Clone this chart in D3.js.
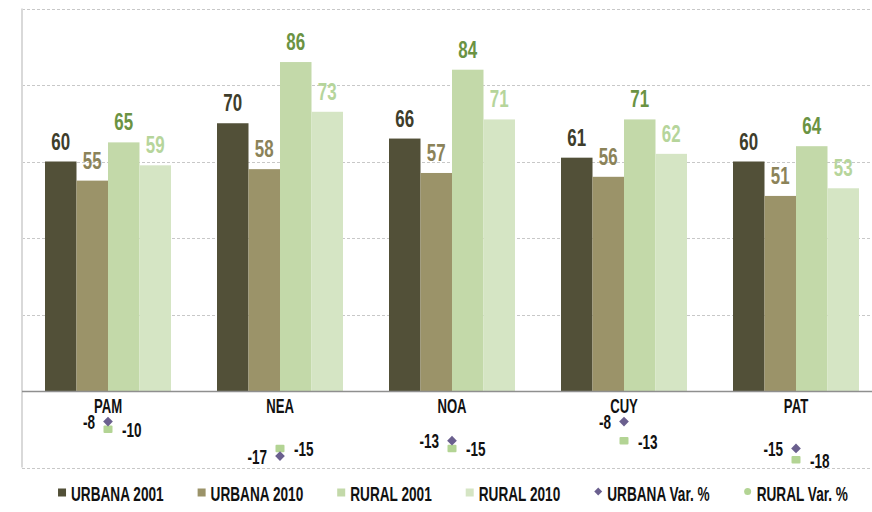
<!DOCTYPE html>
<html>
<head>
<meta charset="utf-8">
<script src="https://cdn.jsdelivr.net/npm/d3@7"></script>
<style>
  html, body { margin: 0; padding: 0; background: #fff; }
  svg { display: block; }
  text { font-family: "Liberation Sans", Arial, sans-serif; font-weight: bold; }
</style>
</head>
<body>
<svg id="chart" width="872" height="512"></svg>
<script>
const categories = ["PAM", "NEA", "NOA", "CUY", "PAT"];
const urbana2001 = [60, 70, 66, 61, 60];
const urbana2010 = [55, 58, 57, 56, 51];
const rural2001 = [65, 86, 84, 71, 64];
const rural2010 = [59, 73, 71, 62, 53];
const urbanaVar = [-8, -17, -13, -8, -15];
const ruralVar = [-10, -15, -15, -13, -18];
const gridTicks = [-20, 0, 20, 40, 60, 80, 100];
const seriesNames = ["URBANA 2001", "URBANA 2010", "RURAL 2001", "RURAL 2010"];
const legendNames = ["URBANA 2001", "URBANA 2010", "RURAL 2001", "RURAL 2010", "URBANA Var. %", "RURAL Var. %"];

const barColors = ["#525038", "#9b9369", "#c3d9a9", "#d5e5c4"];
const labelColors = ["#3e3d2b", "#8b8359", "#6b9343", "#b6d59b"];
const urbMarker = "#6a5f8e";
const rurMarker = "#b3d494";

const svg = d3.select("#chart");
const left = 22, bandW = 172;
const x0 = d3.scaleBand().domain(categories).range([left, left + bandW * categories.length]).paddingInner(0).paddingOuter(0);
const x1 = d3.scaleBand().domain(seriesNames).range([23, 149]);
const y = d3.scaleLinear().domain([-20, 100]).range([467.5, 8.5]);

// condensed text helper
function ctext(sel, fx, fy, size, anchor, color, txt, sx) {
  return sel.append("text")
    .attr("transform", (d, i) => `translate(${fx(d, i)},${fy(d, i)}) scale(${sx},1)`)
    .attr("text-anchor", anchor)
    .attr("font-size", size)
    .attr("fill", color)
    .text(txt);
}

// gridlines
svg.append("g").selectAll("line").data(gridTicks.filter(t => t !== 0)).join("line")
  .attr("x1", left).attr("x2", 872)
  .attr("y1", d => Math.round(y(d)) + 0.5).attr("y2", d => Math.round(y(d)) + 0.5)
  .attr("stroke", "#c8c8c8").attr("stroke-width", 1).attr("stroke-dasharray", "3,2");

// left border
svg.append("line").attr("x1", left).attr("x2", left).attr("y1", y(100)).attr("y2", y(-20))
  .attr("stroke", "#d9d9d9").attr("stroke-width", 2);

const series = [urbana2001, urbana2010, rural2001, rural2010];

const groups = svg.append("g").selectAll("g").data(categories).join("g")
  .attr("transform", d => `translate(${x0(d)},0)`);

series.forEach((vals, si) => {
  groups.append("rect")
    .attr("x", x1(seriesNames[si]))
    .attr("width", x1.bandwidth())
    .attr("y", (d, i) => y(vals[i]))
    .attr("height", (d, i) => y(0) - y(vals[i]))
    .attr("fill", barColors[si]);
  ctext(groups,
    () => x1(seriesNames[si]) + x1.bandwidth() / 2,
    (d, i) => y(vals[i]) - 12,
    23.5, "middle", labelColors[si], (d, i) => vals[i], 0.72);
});

// baseline
svg.append("line").attr("x1", left).attr("x2", 872)
  .attr("y1", Math.round(y(0)) + 0.5).attr("y2", Math.round(y(0)) + 0.5)
  .attr("stroke", "#8f8f8f").attr("stroke-width", 1.3);

// category labels
ctext(groups, () => x0.bandwidth() / 2, () => 412.5, 20.5, "middle", "#111", d => d, 0.64);

// markers
const cx = x0.bandwidth() / 2;
groups.append("rect")
  .attr("x", cx - 4.5).attr("width", 9).attr("height", 7.5)
  .attr("y", (d, i) => y(ruralVar[i]) - 3.75)
  .attr("rx", 1)
  .attr("fill", rurMarker);
groups.append("path")
  .attr("d", d3.symbol().type(d3.symbolDiamond2).size(60))
  .attr("transform", (d, i) => `translate(${cx},${y(urbanaVar[i])})`)
  .attr("fill", urbMarker);
ctext(groups, () => cx - 13, (d, i) => y(urbanaVar[i]) + 7.5, 20.5, "end", "#111", (d, i) => urbanaVar[i], 0.66);
ctext(groups, () => cx + 14, (d, i) => y(ruralVar[i]) + 8, 20.5, "start", "#111", (d, i) => ruralVar[i], 0.66);

// legend
const legendColors = [...barColors, urbMarker, rurMarker];
const lg = svg.append("g");
const items = lg.selectAll("g").data(legendNames).join("g");
const LSX = 0.665;
items.each(function(d, i) {
  const g = d3.select(this);
  if (i < 4) {
    g.append("rect").attr("x", 0).attr("y", -12).attr("width", 8).attr("height", 8).attr("fill", legendColors[i]);
  } else if (i === 4) {
    g.append("path").attr("d", d3.symbol().type(d3.symbolDiamond2).size(40)).attr("transform", "translate(4,-9)").attr("fill", legendColors[i]);
  } else {
    g.append("circle").attr("cx", 4).attr("cy", -9).attr("r", 3.5).attr("fill", legendColors[i]);
  }
  g.append("text").attr("transform", `translate(13,0) scale(${LSX},1)`).attr("font-size", 20.5).attr("fill", "#111").text(d);
});
const widths = [];
items.each(function() {
  widths.push(13 + LSX * d3.select(this).select("text").node().getComputedTextLength());
});
const gap = 34;
const total = widths.reduce((a, b) => a + b, 0) + gap * (widths.length - 1);
let xpos = 453 - total / 2;
items.attr("transform", (d, i) => {
  const t = `translate(${xpos},500.5)`;
  xpos += widths[i] + gap;
  return t;
});
</script>
</body>
</html>
